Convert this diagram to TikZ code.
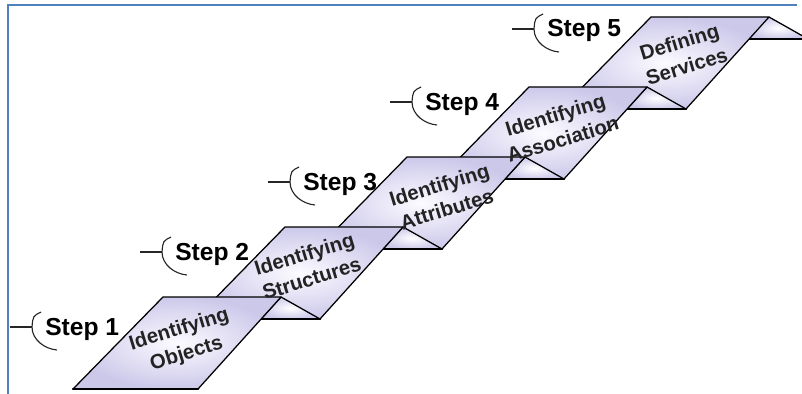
\documentclass[tikz,border=0pt]{standalone}
\usepackage{fontspec}
\setmainfont{Liberation Sans}
\definecolor{faceDark}{RGB}{204,200,234}
\definecolor{faceLight}{RGB}{252,251,255}
\definecolor{frameBlue}{RGB}{79,129,189}
\definecolor{textGray}{RGB}{35,35,35}
\tikzset{
  face/.style={draw=black, line width=0.9pt, line join=round,
    inner color=faceLight, outer color=faceDark},
  fold/.style={draw=black, line width=0.9pt, line join=round,
    inner color=white, outer color=faceDark},
  shadowline/.style={line width=1.5pt, line cap=round},
  facetext/.style={font=\fontsize{14.5}{18}\selectfont\bfseries,
    text=textGray, align=center, rotate=17},
  steplabel/.style={font=\fontsize{17.5}{20}\selectfont\bfseries,
    inner sep=0pt, anchor=base west},
  brk/.style={line width=0.8pt, black!85}
}
\begin{document}
\begin{tikzpicture}[x=0.025cm, y=-0.025cm]
    \useasboundingbox (0,0) rectangle (802,394);

    % 1. Khung xanh (trên và trái)
    \draw[frameBlue, line width=1.5pt] (8,394) -- (8,5) -- (797,5);

    % 2. Nếp gấp trên cùng, bị cắt ở mép phải
    \begin{scope}
        \clip (0,0) rectangle (802,394);
        \fill[fold, draw=none] (769,17) -- (808,39) -- (749,39) -- cycle;
        \draw[line width=0.9pt] (769,17) -- (808,39);
        \draw[shadowline] (749,39) -- (808,39);
    \end{scope}

    % 3. Các bậc, vẽ từ trên xuống để bậc dưới che bậc trên
    % Bậc 5
    \draw[face] (651,17) -- (769,17) -- (686,109) -- (561,109) -- cycle;
    \draw[fold] (647,87) -- (686,109) -- (627,109) -- cycle;
    \draw[shadowline] (627,109) -- (686,109);
    % Bậc 4
    \draw[face] (529,87) -- (647,87) -- (564,179) -- (439,179) -- cycle;
    \draw[fold] (525,157) -- (564,179) -- (505,179) -- cycle;
    \draw[shadowline] (505,179) -- (564,179);
    % Bậc 3
    \draw[face] (407,157) -- (525,157) -- (442,249) -- (317,249) -- cycle;
    \draw[fold] (403,227) -- (442,249) -- (383,249) -- cycle;
    \draw[shadowline] (383,249) -- (442,249);
    % Bậc 2
    \draw[face] (285,227) -- (403,227) -- (320,319) -- (195,319) -- cycle;
    \draw[fold] (281,297) -- (320,319) -- (261,319) -- cycle;
    \draw[shadowline] (261,319) -- (320,319);
    % Bậc 1
    \draw[face] (163,297) -- (281,297) -- (198,389) -- (73,389) -- cycle;
    \draw[shadowline] (73,389) -- (198,389);

    % 4. Chữ trên các bậc
    \node[facetext] (t1) at (183,342) {Identifying\\Objects};
    \node[facetext] (t2) at (308,266) {Identifying\\Structures};
    \node[facetext] (t3) at (443,197) {Identifying\\Attributes};
    \node[facetext] (t4) at (559,127) {Identifying\\Association};
    \node[facetext] (t5) at (683,54) {Defining\\Services};

    % 5. Nhãn Step và ngoặc
    \node[steplabel] (s1) at (45,335) {Step 1};
    \node[steplabel] (s2) at (175,260) {Step 2};
    \node[steplabel] (s3) at (303,190) {Step 3};
    \node[steplabel] (s4) at (425,110) {Step 4};
    \node[steplabel] (s5) at (547,37) {Step 5};
    \foreach \s in {s1,s2,s3,s4,s5} {
        \begin{scope}[shift={(\s.base west)}]
            \draw[brk] (-35,-8) -- (-13,-8);
            \draw[brk] (-4,-23) .. controls (-12,-19) .. (-13,-8)
                .. controls (-13,5) and (0,14) .. (12,15);
        \end{scope}
    }
\end{tikzpicture}
\end{document}
